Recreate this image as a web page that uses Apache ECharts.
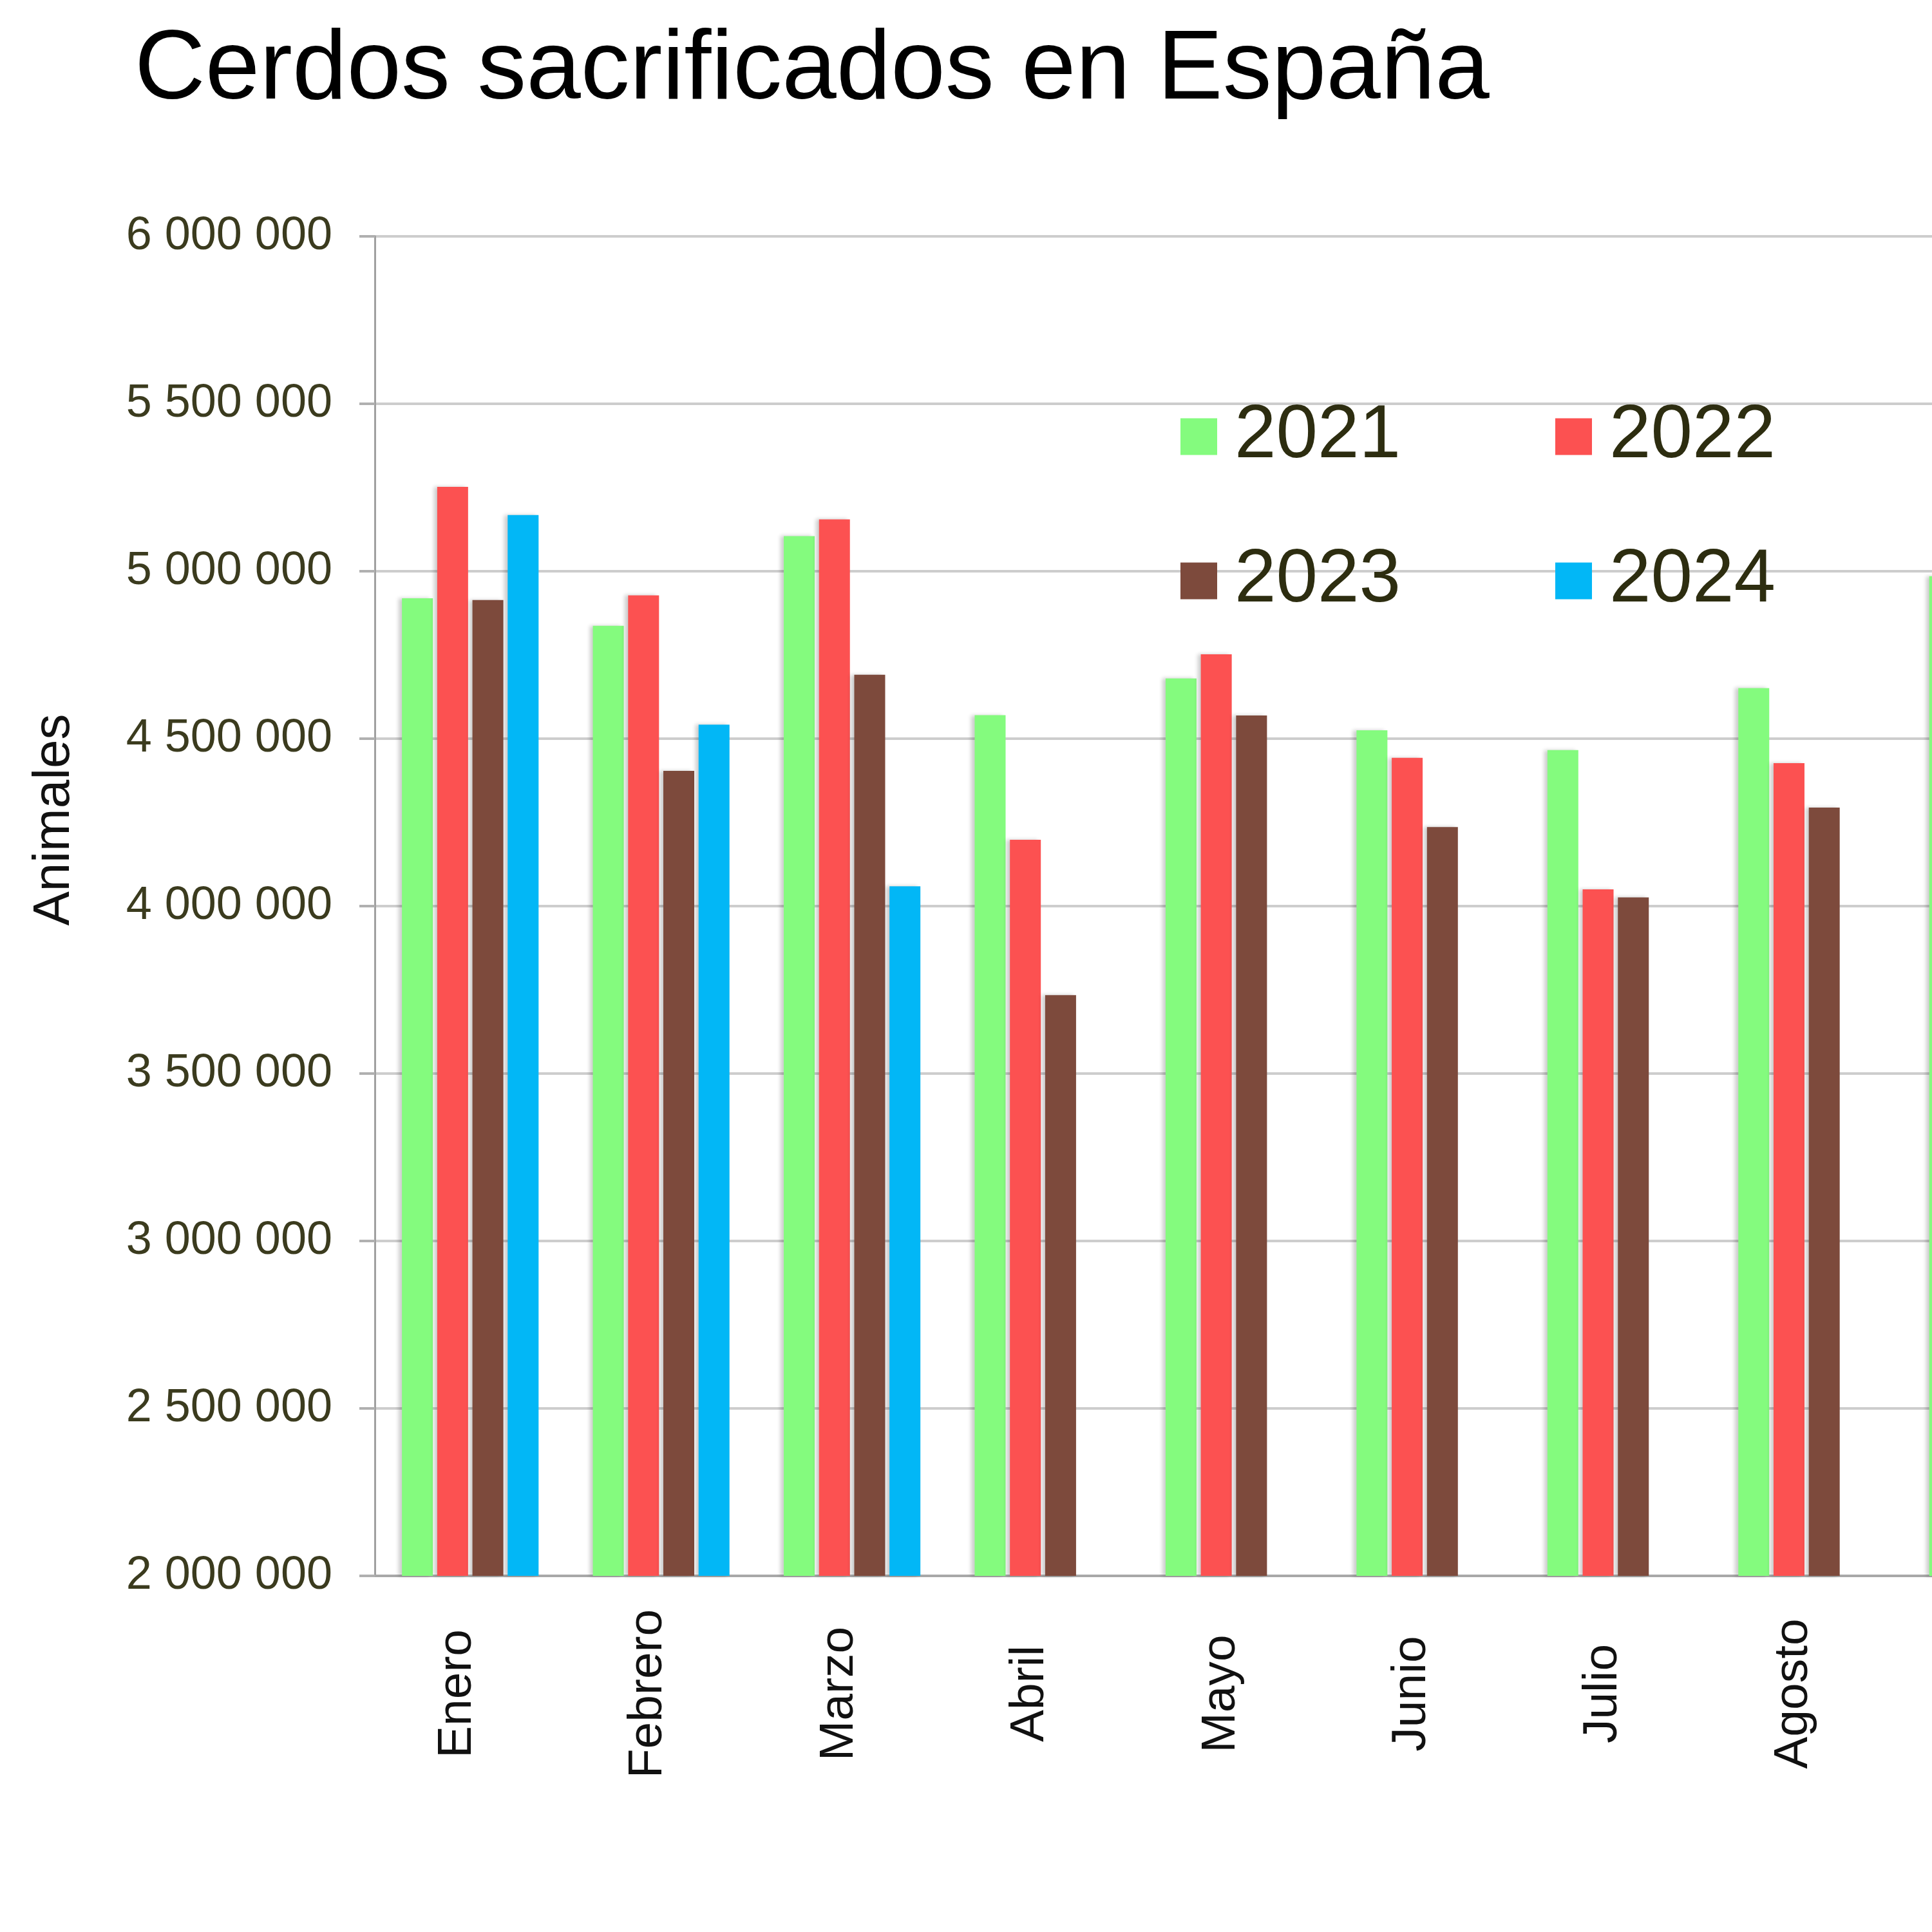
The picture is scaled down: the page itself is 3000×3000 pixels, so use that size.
<!DOCTYPE html>
<html>
<head>
<meta charset="utf-8">
<script src="https://cdn.jsdelivr.net/npm/echarts@6/dist/echarts.min.js"></script>
<style>
  html, body { margin: 0; padding: 0; background: #fff; overflow: hidden; }
  #chart { width: 3300px; height: 3000px; }
</style>
</head>
<body>
<div id="chart"></div>
<script>
// months (the picture is cut off at the right, inside Septiembre)
var meses = ['Enero', 'Febrero', 'Marzo', 'Abril', 'Mayo', 'Junio', 'Julio', 'Agosto', 'Septiembre'];
var anios = ['2021', '2022', '2023', '2024'];
var d2021 = [4919000, 4837000, 5105000, 4570000, 4680000, 4525000, 4466000, 4651000, 4985000];
var d2022 = [5252000, 4928000, 5155000, 4198000, 4752000, 4443000, 4050000, 4427000, null];
var d2023 = [4914000, 4404000, 4691000, 3734000, 4569000, 4236000, 4026000, 4294000, null];
var d2024 = [5168000, 4542000, 4059000, null, null, null, null, null, null];
var colores = ['#84fb7e', '#fc5151', '#7d4a3c', '#02b7f6'];

var font = 'Liberation Sans';

function espacios(v) {
  return String(v).replace(/\B(?=(\d{3})+(?!\d))/g, ' ');
}

function serie(nombre, datos, color) {
  return {
    name: nombre,
    type: 'bar',
    data: datos,
    barWidth: 48,
    barGap: '14%',
    itemStyle: {
      color: color,
      shadowColor: 'rgba(0,0,0,0.2)',
      shadowBlur: 6,
      shadowOffsetX: -5
    }
  };
}

var leyenda = {
  orient: 'vertical',
  top: 615,
  itemWidth: 57,
  itemHeight: 57,
  itemGap: 108,
  icon: 'rect',
  textStyle: { fontFamily: font, fontSize: 116, lineHeight: 116, color: '#2d2d10', padding: [0, 0, 0, 22] }
};

var myChart = echarts.init(document.getElementById('chart'));
var option = {
  backgroundColor: '#fff',
  animation: false,
  title: {
    text: 'Cerdos sacrificados en España',
    left: 204,
    top: 30,
    textStyle: { fontFamily: font, fontSize: 152, fontWeight: 'normal', color: '#000' }
  },
  legend: [
    Object.assign({}, leyenda, { left: 1828, data: [anios[0], anios[2]] }),
    Object.assign({}, leyenda, { left: 2410, data: [anios[1], anios[3]] })
  ],
  grid: {
    left: 582,
    right: 50,
    top: 367,
    bottom: 553
  },
  xAxis: {
    type: 'category',
    data: meses,
    axisLine: { lineStyle: { color: '#a8a8a8', width: 4 } },
    axisTick: { length: 18, lineStyle: { color: '#a8a8a8', width: 3 } },
    axisLabel: {
      rotate: 90,
      align: 'center',
      verticalAlign: 'bottom',
      lineHeight: 40,
      margin: 183,
      fontFamily: font,
      fontSize: 75,
      color: '#111'
    }
  },
  yAxis: {
    type: 'value',
    min: 2000000,
    max: 6000000,
    interval: 500000,
    name: 'Animales',
    nameLocation: 'middle',
    nameGap: 457,
    nameTextStyle: { fontFamily: font, fontSize: 80, color: '#111', padding: [0, 0, 0, 268] },
    axisLine: { show: true, lineStyle: { color: '#a0a0a0', width: 3 } },
    axisTick: { show: true, length: 24, lineStyle: { color: '#b0b0b0', width: 4 } },
    splitLine: { lineStyle: { color: '#cdcdcd', width: 4 } },
    axisLabel: {
      margin: 66,
      fontFamily: font,
      fontSize: 72,
      color: '#3b3b1e',
      formatter: espacios
    }
  },
  series: [
    serie(anios[0], d2021, colores[0]),
    serie(anios[1], d2022, colores[1]),
    serie(anios[2], d2023, colores[2]),
    serie(anios[3], d2024, colores[3])
  ]
};
myChart.setOption(option);
</script>
</body>
</html>
